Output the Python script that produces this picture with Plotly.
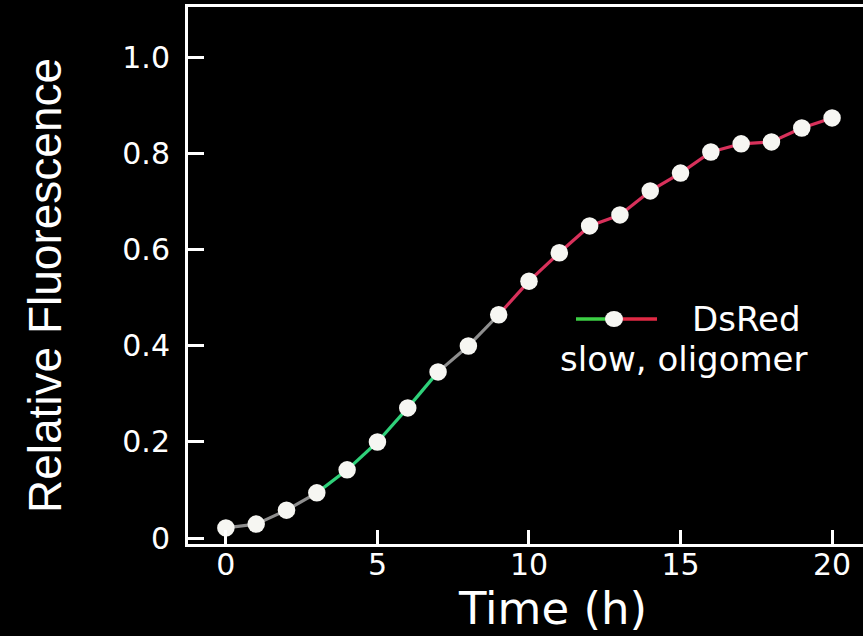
import plotly.graph_objects as go

# Maturation time course of DsRed
time_h = [0, 1, 2, 3, 4, 5, 6, 7, 8, 9, 10, 11, 12, 13, 14, 15, 16, 17, 18, 19, 20]
rel_fluor = [0.021, 0.029, 0.058, 0.094, 0.142, 0.200, 0.271, 0.346, 0.400, 0.465,
             0.535, 0.594, 0.650, 0.673, 0.723, 0.760, 0.804, 0.821, 0.825, 0.854, 0.875]
# colour of the connecting segment that starts at each point (green -> red maturation)
segment_colors = ["gray", "gray", "gray", "green", "green", "green", "green", "gray", "gray",
                  "red", "red", "red", "red", "red", "red", "red", "red", "red", "red", "red"]

x_ticks = [0, 5, 10, 15, 20]
y_ticks = [0, 0.2, 0.4, 0.6, 0.8, 1.0]
y_tick_text = ["0", "0.2", "0.4", "0.6", "0.8", "1.0"]

palette = {"gray": "#8e8e8e", "green": "#2fd17a", "red": "#d8315b"}
FONT = "DejaVu Sans, Liberation Sans, Arial, sans-serif"
FONT_V = "Liberation Sans, Arial, Helvetica, sans-serif"

fig = go.Figure()

for i, c in enumerate(segment_colors):
    fig.add_trace(go.Scatter(
        x=time_h[i:i + 2], y=rel_fluor[i:i + 2], mode="lines",
        line=dict(color=palette[c], width=3.2), hoverinfo="skip", showlegend=False,
    ))

fig.add_trace(go.Scatter(
    x=time_h, y=rel_fluor, mode="markers",
    marker=dict(symbol="circle", size=17.5, color="#f6f6f2", line=dict(width=0)),
    showlegend=False, name="DsRed",
))

# pixel -> paper helpers for the plot area (188..863 x 7..544)
W, H = 675.0, 537.0
def px(xp):
    return (xp - 188) / W
def py(yp):
    return (544 - yp) / H

# legend key: green line, white dot, red line
fig.add_shape(type="line", xref="paper", yref="paper", x0=px(576), x1=px(606),
              y0=py(319), y1=py(319), line=dict(color="#3ccf45", width=3.5))
fig.add_shape(type="line", xref="paper", yref="paper", x0=px(622), x1=px(657),
              y0=py(319), y1=py(319), line=dict(color="#e02a45", width=3.5))
fig.add_shape(type="circle", xref="paper", yref="paper", x0=px(605), x1=px(623),
              y0=py(327), y1=py(311), fillcolor="#f6f6f2", line=dict(width=0))

fig.add_annotation(xref="paper", yref="paper", x=px(746), y=py(319), text="DsRed",
                   showarrow=False, font=dict(family=FONT, size=34, color="white"),
                   xanchor="center", yanchor="middle", borderpad=0)
fig.add_annotation(xref="paper", yref="paper", x=px(684), y=py(359), text="slow, oligomer",
                   showarrow=False, font=dict(family=FONT, size=34, color="white"),
                   xanchor="center", yanchor="middle", borderpad=0)

# axis titles
fig.add_annotation(xref="paper", yref="paper", x=px(552), y=py(608), text="Time (h)",
                   showarrow=False, font=dict(family=FONT, size=45, color="white"),
                   xanchor="center", yanchor="middle")
fig.add_annotation(xref="paper", yref="paper", x=px(45), y=py(286),
                   text="Relative Fluorescence", textangle=-90,
                   showarrow=False, font=dict(family=FONT_V, size=46, color="white"),
                   xanchor="center", yanchor="middle")

fig.update_layout(
    width=863, height=636,
    margin=dict(l=188, r=0, t=7, b=92),
    paper_bgcolor="black", plot_bgcolor="black",
    font=dict(family=FONT, color="white"),
    showlegend=False,
    xaxis=dict(
        range=[-1.25, 21.02], tickvals=x_ticks, ticks="inside", ticklen=14,
        tickwidth=2.5, tickcolor="white", showline=True, linecolor="white",
        linewidth=3, mirror=True, showgrid=False, zeroline=False,
        tickfont=dict(family=FONT, size=30, color="white"), ticklabelstandoff=-8,
    ),
    yaxis=dict(
        range=[-0.0125, 1.106], tickvals=y_ticks, ticktext=y_tick_text,
        ticks="inside", ticklen=16, tickwidth=2.5, tickcolor="white",
        showline=True, linecolor="white", linewidth=3, showgrid=False,
        zeroline=False, tickfont=dict(family=FONT, size=30, color="white"),
        ticklabelstandoff=9,
    ),
)

fig.write_html("out.html")
